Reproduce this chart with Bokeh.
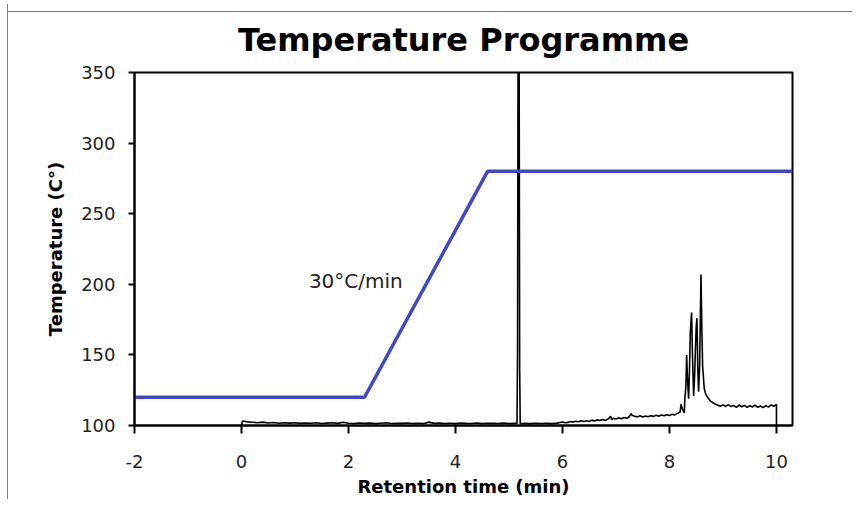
from bokeh.plotting import figure
from bokeh.models import Label, Range1d, FixedTicker
from bokeh.embed import file_html
from bokeh.resources import INLINE

# ---- data ----
title_text = "Temperature Programme"
x_label = "Retention time (min)"
y_label = "Temperature (C°)"
x_ticks = [-2, 0, 2, 4, 6, 8, 10]
y_ticks = [100, 150, 200, 250, 300, 350]

# temperature programme (oven ramp)
prog_time = [-2.0, 2.3, 4.6, 10.3]
prog_temp = [120, 120, 280, 280]
ramp_label = "30°C/min"
ramp_label_x = 1.26
ramp_label_y = 202.4

# chromatogram trace (retention time, signal on temperature scale)
chrom_time = [
    0.0, 0.02, 0.1, 0.2, 0.3, 0.4, 0.5, 0.6, 0.7, 0.8, 0.9,
    1.0, 1.1, 1.2, 1.3, 1.4, 1.5, 1.6, 1.7, 1.8, 1.9,
    2.0, 2.1, 2.2, 2.3, 2.4, 2.5, 2.6, 2.7, 2.8, 2.9,
    3.0, 3.1, 3.2, 3.3, 3.4, 3.5, 3.6, 3.7, 3.8, 3.9,
    4.0, 4.1, 4.2, 4.3, 4.4, 4.5, 4.6, 4.7, 4.8, 4.9,
    5.0, 5.1, 5.15, 5.16, 5.17, 5.19, 5.20, 5.21, 5.3, 5.4,
    5.5, 5.6, 5.7, 5.8, 5.9, 6.0, 6.05, 6.1, 6.15, 6.2, 6.25, 6.3, 6.35, 6.4,
    6.45, 6.5, 6.55, 6.6, 6.65, 6.7, 6.75, 6.8, 6.85, 6.9, 6.92, 6.95, 7.0,
    7.05, 7.1, 7.15, 7.2, 7.25, 7.28, 7.3, 7.35, 7.4, 7.45, 7.5, 7.55, 7.6,
    7.65, 7.7, 7.75, 7.8, 7.85, 7.9, 7.95, 8.0, 8.05, 8.1,
    8.15, 8.2, 8.215, 8.25, 8.277, 8.29, 8.308, 8.321, 8.335, 8.358,
    8.375, 8.389, 8.414, 8.43, 8.452, 8.47, 8.483, 8.5, 8.514, 8.53,
    8.545, 8.564, 8.589, 8.605, 8.62, 8.651, 8.68, 8.714, 8.76, 8.807,
    8.85, 8.9, 8.95, 9.0, 9.05, 9.1, 9.15, 9.2, 9.25, 9.3, 9.35, 9.4,
    9.45, 9.5, 9.55, 9.6, 9.65, 9.7, 9.75, 9.8, 9.85, 9.9, 9.95, 10.0, 10.0,
]
chrom_signal = [
    100.0, 103.2, 102.6, 102.3, 102.0, 102.4, 101.8, 102.1, 101.6, 102.0, 101.7,
    101.9, 101.5, 101.8, 101.6, 102.0, 101.4, 101.7, 101.9, 101.5, 102.3,
    101.6, 101.4, 101.8, 101.5, 101.7, 101.3, 101.6, 101.9, 101.4, 101.6,
    101.5, 101.8, 101.4, 101.6, 101.3, 102.4, 101.5, 101.7, 101.4, 101.6,
    101.3, 101.7, 101.5, 101.4, 101.8, 101.3, 101.6, 101.5, 101.4, 101.7,
    101.3, 101.5, 101.4, 150.0, 360.0, 360.0, 140.0, 101.2, 101.5, 101.3,
    101.6, 101.4, 101.5, 101.3, 101.7, 102.5, 101.9, 102.2, 102.9, 102.4, 103.0, 102.6, 103.3, 102.8,
    103.4, 102.9, 103.8, 103.2, 104.0, 103.6, 104.3, 103.5, 104.5, 106.5, 104.2, 105.1, 104.6,
    105.4, 104.8, 105.7, 105.1, 106.2, 108.5, 107.2, 106.5, 106.1, 106.9, 106.0, 106.8, 106.2,
    107.0, 106.4, 107.2, 106.6, 107.4, 106.9, 107.6, 107.1, 108.0, 107.5,
    108.6, 109.5, 115.0, 111.0, 109.0, 120.0, 128.0, 150.0, 135.0, 119.0,
    140.0, 166.0, 180.0, 150.0, 121.0, 135.0, 151.0, 170.0, 176.0, 140.0,
    124.0, 142.0, 207.0, 170.0, 142.0, 126.0, 122.0, 120.0, 117.5, 116.3,
    115.2, 114.5, 113.6, 114.6, 113.5, 114.8, 113.4, 114.1, 112.9, 114.5, 113.3, 114.2,
    112.8, 114.0, 113.1, 114.4, 112.9, 113.8, 112.7, 114.1, 113.0, 114.6, 113.6, 115.0, 100.0,
]

FONT = "DejaVu Sans"

p = figure(width=845, height=495, output_backend="svg", toolbar_location=None,
           x_range=Range1d(-2, 10.3), y_range=Range1d(100, 350),
           min_border_left=126, min_border_right=61,
           min_border_top=68, min_border_bottom=69)
p.styles = {"margin-left": "7px", "margin-top": "4px",
            "border-left": "1px solid #7f7f7f",
            "background": "linear-gradient(#7f7f7f, #7f7f7f) no-repeat 0px 7px / 100% 1px"}

p.title.text = title_text
p.title.align = "center"
p.title.text_font = FONT
p.title.text_font_size = "32px"
p.title.text_font_style = "bold"
p.title.text_color = "black"
p.title.standoff = 28

p.background_fill_color = "white"
p.border_fill_alpha = 0
p.outline_line_color = "black"
p.outline_line_width = 2
p.xgrid.visible = False
p.ygrid.visible = False

# chromatogram
p.line(chrom_time, chrom_signal, line_color="#000000", line_width=1.6)
# temperature programme
p.line(prog_time, prog_temp, line_color="#3F48CC", line_width=3.5)

# axes
for ax in (p.xaxis[0], p.yaxis[0]):
    ax.axis_line_color = "black"
    ax.axis_line_width = 2
    ax.major_tick_line_color = "black"
    ax.major_tick_line_width = 2
    ax.minor_tick_line_color = None
    ax.major_tick_in = 0
    ax.major_label_text_font = FONT
    ax.major_label_text_font_size = "18px"
    ax.major_label_text_color = "#222222"
    ax.axis_label_text_font = FONT
    ax.axis_label_text_font_size = "18px"
    ax.axis_label_text_font_style = "bold"
    ax.axis_label_text_color = "black"

p.xaxis.ticker = FixedTicker(ticks=x_ticks)
p.yaxis.ticker = FixedTicker(ticks=y_ticks)
p.xaxis.major_label_overrides = {-2: "-2"}
p.xaxis.axis_label = x_label
p.yaxis.axis_label = y_label
p.xaxis.major_tick_out = 8
p.yaxis.major_tick_out = 6
p.xaxis.major_label_standoff = 21
p.yaxis.major_label_standoff = 13
p.xaxis.axis_label_standoff = 5
p.yaxis.axis_label_standoff = 12

p.add_layout(Label(x=ramp_label_x, y=ramp_label_y, text=ramp_label,
                   text_font=FONT, text_font_size="20px", text_color="#222222",
                   text_baseline="alphabetic", text_align="left"))

open("out.html", "w").write(file_html(p, INLINE))
